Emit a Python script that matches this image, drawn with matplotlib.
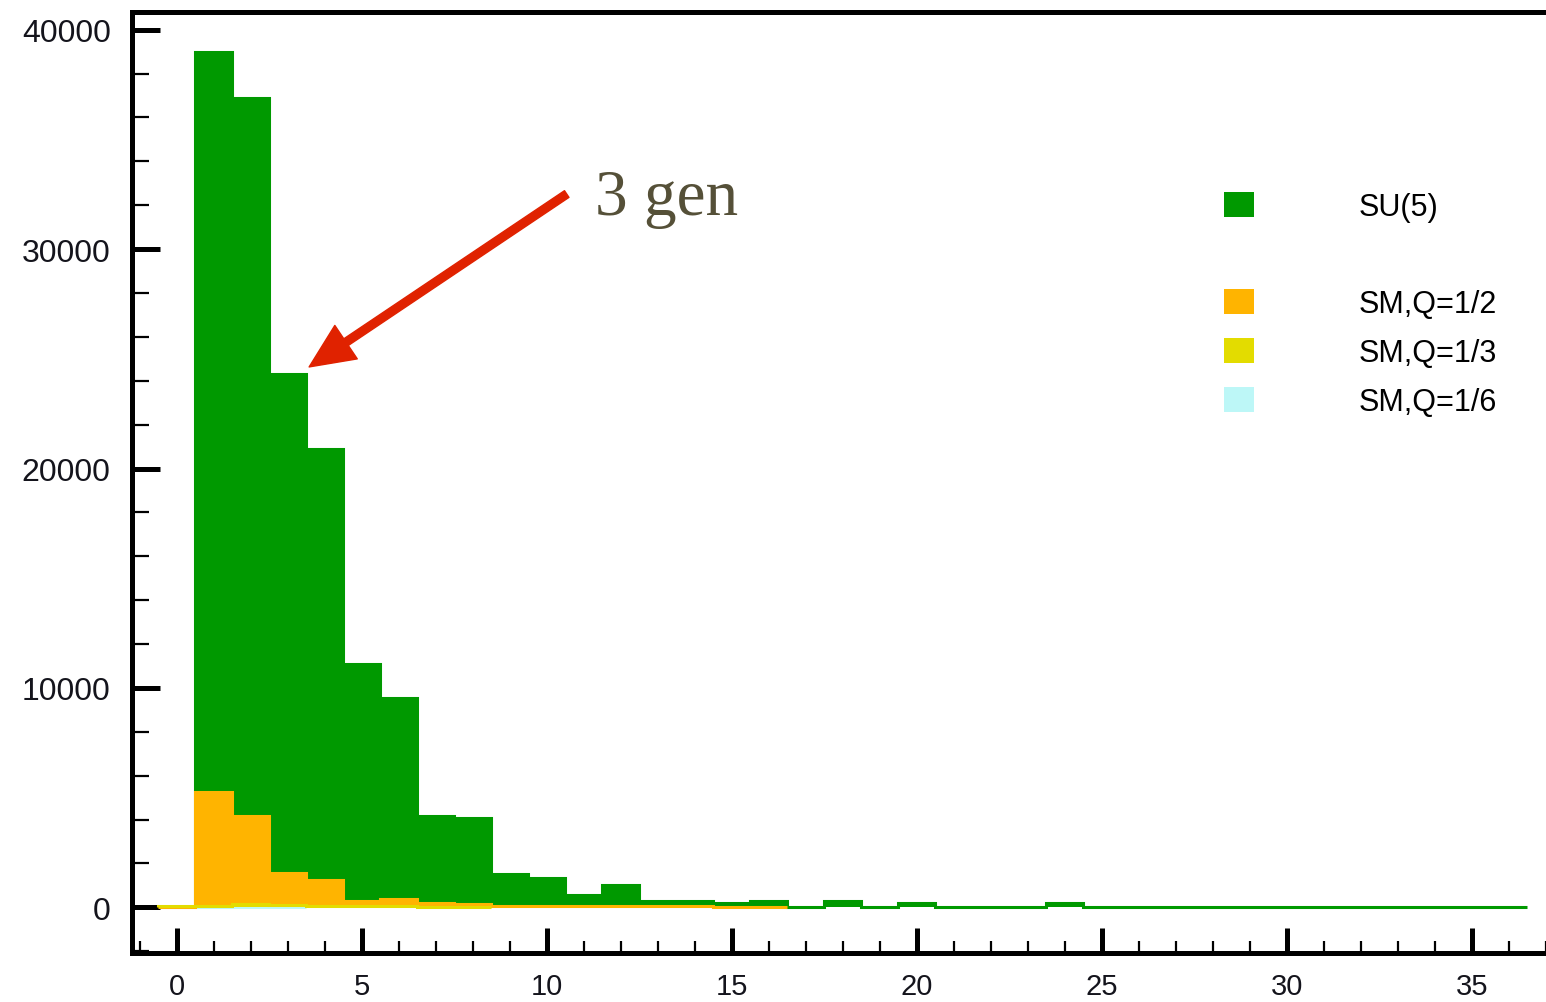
import matplotlib
matplotlib.use('Agg')
import matplotlib.pyplot as plt
from matplotlib.patches import Patch
from matplotlib.ticker import MultipleLocator
import numpy as np

# ---- data (bins centred on integers 0..36) ----
bin_centers = list(range(0, 37))
su5_counts = [0, 39000, 36900, 24300, 20900, 11100, 9550, 4150, 4050, 1500,
              1350, 550, 1000, 270, 270, 180, 290, 0, 290, 0,
              180, 0, 0, 0, 180, 0, 0, 0, 0, 0,
              0, 0, 0, 0, 0, 0, 0]
sm_q12_counts = [0, 5250, 4150, 1550, 1250, 280, 380, 180, 150, 60,
                 60, 50, 50, 40, 40, 30, 30]
sm_q13_counts = [40, 60, 150, 90, 70, 40, 40, 30, 20]
sm_q16_counts = [15, 10, 10, 5]
series_labels = ['SU(5)', 'SM,Q=1/2', 'SM,Q=1/3', 'SM,Q=1/6']
series_colors = ['#009900', '#FFB400', '#E3DC00', '#BDF7F7']
x_major = [0, 5, 10, 15, 20, 25, 30, 35]
y_major = [0, 10000, 20000, 30000, 40000]
annotation_text = '3 gen'

plt.rcParams['font.family'] = ['Liberation Sans', 'DejaVu Sans']

W, H = 1546, 1003
fig = plt.figure(figsize=(W / 100, H / 100), dpi=100)
left_px, bottom_px, top_px = 131.5, 953.5, 12.5
ax = fig.add_axes([left_px / W, (H - bottom_px) / H,
                   1 - left_px / W, (bottom_px - top_px) / H])


def draw_hist(first_bin, counts, color, z):
    counts = np.asarray(counts, dtype=float)
    edges = np.arange(first_bin, first_bin + len(counts) + 1) - 0.5
    ax.stairs(counts, edges, fill=True, color=color, zorder=z, linewidth=0)
    ax.stairs(counts, edges, color=color, linewidth=2.2, zorder=z + 0.1)


# cyan underneath, then green, orange, yellow
draw_hist(0, sm_q16_counts, series_colors[3], 1)
draw_hist(1, su5_counts[1:], series_colors[0], 2)
draw_hist(0, sm_q12_counts, series_colors[1], 3)
draw_hist(0, sm_q13_counts, series_colors[2], 4)

ax.set_xlim(-1.22, 37.0)
ax.set_ylim(-2060, 40830)

ax.xaxis.set_major_locator(MultipleLocator(5))
ax.xaxis.set_minor_locator(MultipleLocator(1))
ax.yaxis.set_major_locator(MultipleLocator(10000))
ax.yaxis.set_minor_locator(MultipleLocator(2000))
ax.set_xticks(x_major)
ax.set_yticks(y_major)

lab_col = '#14141c'
ax.tick_params(axis='y', which='major', direction='in', length=20, width=3.6,
               labelsize=23, pad=15, labelcolor=lab_col, left=True, right=False)
ax.tick_params(axis='y', which='minor', direction='in', length=12, width=1.6,
               left=True, right=False)
ax.tick_params(axis='x', which='major', direction='in', length=18, width=3.6,
               labelsize=21, pad=14, labelcolor=lab_col, bottom=True, top=False)
ax.tick_params(axis='x', which='minor', direction='in', length=8.5, width=1.6,
               bottom=True, top=False)

for s in ['left', 'bottom', 'top']:
    ax.spines[s].set_linewidth(3.6)
    ax.spines[s].set_zorder(10)
ax.spines['right'].set_visible(False)

# legend with an empty row after SU(5)
handles = [Patch(facecolor=series_colors[0], edgecolor='none'),
           Patch(facecolor='none', edgecolor='none'),
           Patch(facecolor=series_colors[1], edgecolor='none'),
           Patch(facecolor=series_colors[2], edgecolor='none'),
           Patch(facecolor=series_colors[3], edgecolor='none')]
labels = [series_labels[0], ' ', series_labels[1], series_labels[2], series_labels[3]]
ax.legend(handles, labels, loc='upper left', bbox_to_anchor=(1224 / W, 1 - 193 / H),
          bbox_transform=fig.transFigure, frameon=False, fontsize=22,
          handlelength=0.98, handleheight=0.88, handletextpad=3.43,
          labelspacing=0.61, borderpad=0, borderaxespad=0)

# annotation arrow and text
ax.annotate('', xy=(3.58, 24630), xytext=(10.54, 32510),
            arrowprops=dict(color='#E02200', width=5.8, headwidth=29,
                            headlength=32, shrink=0), zorder=12)
ax.text(11.3, 31600, annotation_text, fontfamily=['Liberation Serif', 'DejaVu Serif'],
        fontsize=47, color='#555038', va='baseline', ha='left', zorder=12)

fig.savefig('out.png', dpi=100)
